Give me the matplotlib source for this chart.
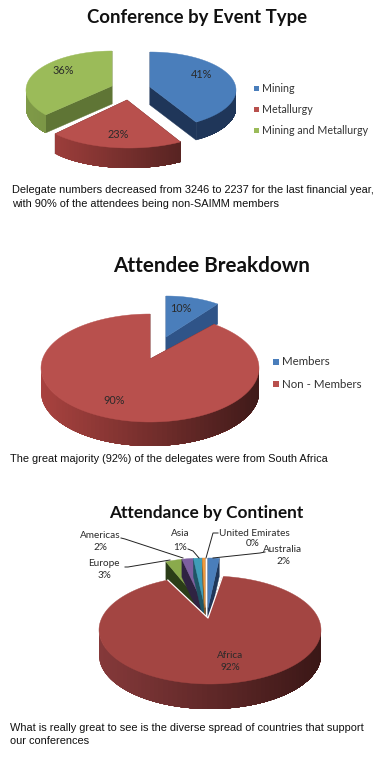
import numpy as np
import matplotlib
matplotlib.use("Agg")
import matplotlib.pyplot as plt
from matplotlib.patches import Polygon, Rectangle

# values
event_types = ["Mining", "Metallurgy", "Mining and Metallurgy"]
event_values = [41, 23, 36]

attendee_types = ["Members", "Non - Members"]
attendee_values = [10, 90]

continents = ["Australia", "Africa", "Europe", "Americas", "Asia", "United Emirates"]
continent_values = [1.8, 92, 2.6, 1.8, 1.4, 0.4]
continent_shown = [2, 92, 3, 2, 1, 0]

TITLE_FONT = "Lato"
LABEL_FONT = "Lato"
CAPTION_FONT = "Liberation Sans"

BLUE = ("#4a7ebb", "#1f3659", "#1f3659", "#1f3659")
BLUE2 = ("#4a7ebb", "#2f5488", "#2f5488", "#2f5488")
RED = ("#b8504d", "#a8423f", "#3f1a19", "#5c2221")
GREEN = ("#9bbb59", "#7f9a48", "#5f7535", "#5f7535")
PURPLE = ("#7d5fa0", "#41305a", "#41305a", "#2f2342")
TEAL = ("#3f9db8", "#1f5565", "#1f5565", "#1f5565")
ORANGE = ("#f09a3e", "#8a5520", "#8a5520", "#8a5520")
RED3 = ("#a34542", "#85393a", "#3a1716", "#5c2221")
GREEN3 = ("#8aaa4c", "#33491c", "#33491c", "#2b3d18")


def arc(geo, t):
    cx, cy, rx, ry = geo[:4]
    return np.column_stack([cx + rx * np.sin(t), cy - ry * np.cos(t)])


def mix(c1, c2, f):
    a = np.array(matplotlib.colors.to_rgb(c1))
    b = np.array(matplotlib.colors.to_rgb(c2))
    return tuple(a + (b - a) * f)


def draw_slice(ax, t0, t1, geo, depth, cols, edge=None):
    # geo = ellipse cx, cy, rx, ry, then apex x, y
    top, rim_l, rim_r, face = cols
    apex = np.array(geo[4:6])
    down = np.array([0, depth])
    ts = np.linspace(t0, t1, 160)
    pts = arc(geo, ts)

    for t in (t0, t1):
        p = arc(geo, np.array([t]))[0]
        ax.add_patch(Polygon([apex, p, p + down, apex + down], fc=face, ec=face, lw=0.3))

    a = max(t0, np.pi / 2)
    b = min(t1, 3 * np.pi / 2)
    if b > a:
        # rim runs right to left, so go from the left end and let each piece overlap the next
        rim = np.linspace(b, a, 70)
        rp = arc(geo, rim)
        xmin, xmax = geo[0] - geo[2], geo[0] + geo[2]
        for i in range(len(rim) - 1):
            f = (rp[i, 0] - xmin) / (xmax - xmin)
            c = mix(rim_l, rim_r, f)
            ax.add_patch(Polygon(np.vstack([rp[i:], rp[i:][::-1] + down]), fc=c, ec="none"))

    ax.add_patch(Polygon(np.vstack([apex, pts]), fc=top, ec=top, lw=0.3))
    if edge:
        ax.plot([pts[0, 0], apex[0], pts[-1, 0]], [pts[0, 1], apex[1], pts[-1, 1]], color=edge, lw=0.9)


def draw_pie(ax, values, geos, depths, cols, order, edge=None):
    cum = np.cumsum([0] + list(values)) / sum(values) * 2 * np.pi
    for i in order:
        draw_slice(ax, cum[i], cum[i + 1], geos[i], depths[i], cols[i], edge=edge if edge and i == order[-1] else None)


def legend(ax, names, cols, x, ys, size, fs):
    for n, c, y in zip(names, cols, ys):
        ax.add_patch(Rectangle((x, y - size / 2), size, size, fc=c[0], ec="none"))
        ax.text(x + size + 3, y, n, fontsize=fs, family=LABEL_FONT, color="#333333", va="center", ha="left")


def label(ax, x, y, s, fs=7.2, ha="center"):
    ax.text(x, y, s, fontsize=fs, family=LABEL_FONT, color="#2a2a2a", va="center", ha=ha)


def caption(ax, x, y, s):
    ax.text(x, y, s, fontsize=7.9, family=CAPTION_FONT, color="#111111", va="center", ha="left")


fig = plt.figure(figsize=(3.84, 7.57), dpi=100)
ax = fig.add_axes([0, 0, 1, 1])
ax.set_xlim(0, 384)
ax.set_ylim(757, 0)
ax.axis("off")

# chart 1
ax.text(197, 17, "Conference by Event Type", fontsize=13.4, fontweight="bold", family=TITLE_FONT, ha="center", va="center", color="#111111")
draw_pie(ax, event_values,
         [(150, 90, 86, 38, 150, 87), (129, 109, 96, 39, 127, 100), (112, 90, 86, 39, 112, 86)],
         [18, 20, 18], [BLUE, RED, GREEN], [2, 0, 1])
label(ax, 202, 74, "41%", 7.8)
label(ax, 118, 134, "23%", 7.8)
label(ax, 63, 71, "36%", 7.8)
legend(ax, event_types, [BLUE, RED, GREEN], 254, [88.5, 109.5, 130.5], 5, 7.7)
caption(ax, 12, 190, "Delegate numbers decreased from 3246 to 2237 for the last financial year,")
caption(ax, 12, 204, "with 90% of the attendees being non-SAIMM members")

# chart 2
ax.text(212, 266, "Attendee Breakdown", fontsize=14.9, fontweight="bold", family=TITLE_FONT, ha="center", va="center", color="#111111")
draw_pie(ax, attendee_values,
         [(166, 338, 88, 42, 166, 337), (150, 368, 109, 54, 150, 359)],
         [20, 24], [BLUE2, RED], [0, 1])
label(ax, 181, 308, "10%", 7.8)
label(ax, 114, 401, "90%", 7.8)
legend(ax, attendee_types, [BLUE, RED], 273, [361.5, 384], 6, 8.3)
caption(ax, 10, 459, "The great majority (92%) of the delegates were from South Africa")

# chart 3
ax.text(206, 513, "Attendance by Continent", fontsize=12.4, fontweight="bold", family=TITLE_FONT, ha="center", va="center", color="#111111")
small = (205, 608, 103, 50, 205, 608)
draw_pie(ax, continent_values,
         [(208, 608, 100, 50, 208, 608), (210, 630, 111, 54, 208, 618), small, small, small, small],
         [18, 25, 18, 18, 18, 18],
         [BLUE, RED3, GREEN3, PURPLE, TEAL, ORANGE], [2, 3, 4, 5, 0, 1], edge="white")
leaders = [((121, 125, 183), (538, 539, 558)), ((188, 193, 199), (549, 551, 558)),
           ((218, 213, 206), (533, 533, 558)), ((265, 260, 213), (552, 553, 558)),
           ((125, 128, 170), (567, 567, 560))]
for lx, ly in leaders:
    ax.plot(lx, ly, color="#222222", lw=0.7)
label(ax, 100, 536, continents[3])
label(ax, 100, 548, f"{continent_shown[3]}%")
label(ax, 180, 534, continents[4])
label(ax, 180, 547, f"{continent_shown[4]}%")
label(ax, 219, 534, continents[5], ha="left")
label(ax, 253, 544, f"{continent_shown[5]}%")
label(ax, 283, 549, continents[0])
label(ax, 283, 561, f"{continent_shown[0]}%")
label(ax, 104, 564, continents[2])
label(ax, 104, 576, f"{continent_shown[2]}%")
label(ax, 230, 655, continents[1])
label(ax, 230, 668, f"{continent_shown[1]}%")
caption(ax, 10, 728, "What is really great to see is the diverse spread of countries that support")
caption(ax, 10, 741, "our conferences")

fig.savefig("out.png", dpi=100)
